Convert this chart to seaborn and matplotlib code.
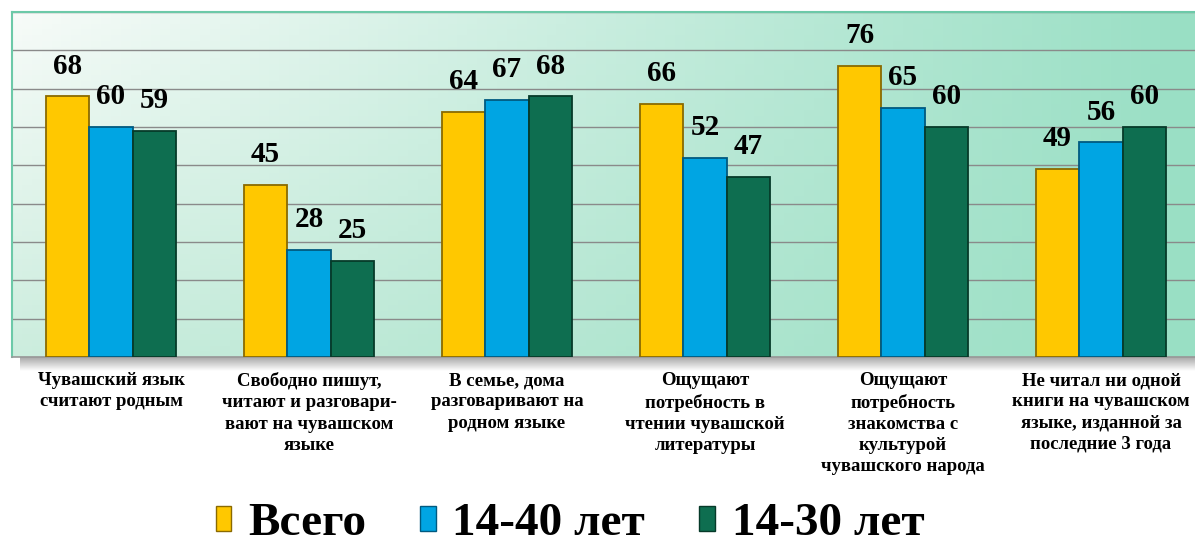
import numpy as np
import pandas as pd
import matplotlib
matplotlib.use("Agg")
import matplotlib.pyplot as plt
from matplotlib.patches import Patch
import seaborn as sns

categories = [
    "Чувашский язык\nсчитают родным",
    "Свободно пишут,\nчитают и разговари-\nвают на чувашском\nязыке",
    "В семье, дома\nразговаривают на\nродном языке",
    "Ощущают\nпотребность в\nчтении чувашской\nлитературы",
    "Ощущают\nпотребность\nзнакомства с\nкультурой\nчувашского народа",
    "Не читал ни одной\nкниги на чувашском\nязыке, изданной за\nпоследние 3 года",
]
series = ["Всего", "14-40 лет", "14-30 лет"]
vsego = [68, 45, 64, 66, 76, 49]
age_14_40 = [60, 28, 67, 52, 65, 56]
age_14_30 = [59, 25, 68, 47, 60, 60]

colors = ["#FFC800", "#00A5E3", "#0E6E50"]
edges = ["#8a6a00", "#005a80", "#063a29"]

df = pd.DataFrame({
    "cat": categories * 3,
    "series": [s for s in series for _ in categories],
    "value": vsego + age_14_40 + age_14_30,
})

sns.set_theme(style="white")
plt.rcParams["font.family"] = ["Liberation Serif", "DejaVu Serif"]
plt.rcParams["text.color"] = "black"
plt.rcParams["xtick.color"] = "black"

W, H = 1195, 550
fig = plt.figure(figsize=(W / 100, H / 100), dpi=100)
fig.patch.set_facecolor("white")

axl, axb, axw, axh = 12 / W, (H - 357) / H, 1188 / W, 345 / H

# shadow strip under the axis
sh = fig.add_axes([axl + 8 / W, axb - 14 / H, axw, 14 / H], zorder=0)
g = np.linspace(0, 1, 50)[:, None] * np.ones((1, 10))
sh.imshow(g, cmap=matplotlib.colors.LinearSegmentedColormap.from_list(
    "sh", ["#a8a8a8", "#ffffff"]), aspect="auto", extent=[0, 1, 0, 1], origin="upper")
sh.set_axis_off()

ax = fig.add_axes([axl, axb, axw, axh], zorder=1)

# background gradient
ny, nx = 60, 120
xx = np.linspace(0, 1, nx)[None, :]
yy = np.linspace(0, 1, ny)[:, None]  # 0 bottom, 1 top
tl = np.array([0.97, 0.985, 0.975])
bl = np.array([0.80, 0.93, 0.87])
tr = np.array([0.60, 0.875, 0.77])
br = np.array([0.60, 0.875, 0.77])
img = ((1 - xx)[..., None] * (yy[..., None] * tl + (1 - yy)[..., None] * bl)
       + xx[..., None] * (yy[..., None] * tr + (1 - yy)[..., None] * br))
ax.imshow(img, extent=[-0.5, 5.5, 0, 90], aspect="auto", origin="lower", zorder=0)

sns.barplot(data=df, x="cat", y="value", hue="series", palette=colors,
            width=0.66, ax=ax, legend=False, zorder=3, saturation=1)

for i, cont in enumerate(ax.containers):
    for bar in cont:
        bar.set_edgecolor(edges[i])
        bar.set_linewidth(1.3)
    ax.bar_label(cont, labels=[f"{int(v)}" for v in cont.datavalues],
                 padding=12, fontsize=21, fontweight="bold", color="black",
                 family="Liberation Serif", zorder=4)

ax.set_xlim(-0.5, 5.5)
ax.set_ylim(0, 90)
ax.set_yticks(np.arange(0, 91, 10))
ax.set_yticklabels([])
ax.tick_params(axis="y", length=0)
ax.grid(axis="y", color="#8a8a8a", linewidth=1.0, zorder=1)
ax.set_axisbelow(True)
ax.set_xlabel("")
ax.set_ylabel("")

ax.set_xticks(range(len(categories)))
ax.set_xticklabels(categories, fontsize=13.5, fontweight="bold",
                   linespacing=1.32, va="top", color="black")
ax.tick_params(axis="x", which="major", length=0, pad=11)
ax.set_xticks(np.arange(-0.5, 6, 1), minor=True)
ax.tick_params(axis="x", which="minor", length=5, color="#888888", width=1,
               direction="out")

for s in ["left", "top"]:
    ax.spines[s].set_color("#6cc9a8")
    ax.spines[s].set_linewidth(1.5)
ax.spines["right"].set_visible(False)
ax.spines["bottom"].set_color("#999999")
ax.spines["bottom"].set_linewidth(1.2)

handles = [Patch(facecolor=c, edgecolor=e, linewidth=1) for c, e in zip(colors, edges)]
leg = fig.legend(handles, series, loc="center", bbox_to_anchor=(570 / W, 1 - 524 / H),
                 ncol=3, frameon=False, handlelength=0.33, handleheight=0.43,
                 handletextpad=0.35, columnspacing=1.15,
                 prop={"family": "Liberation Serif", "weight": "bold", "size": 34})
for t in leg.get_texts():
    t.set_color("black")

fig.savefig("out.png", dpi=100)
